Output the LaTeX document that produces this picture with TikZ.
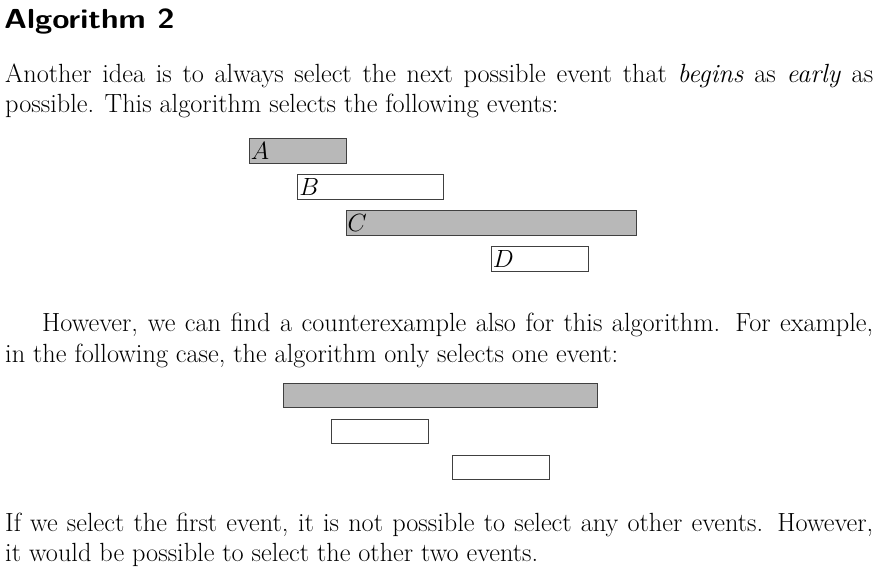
\documentclass[tikz,border=0pt]{standalone}
\begin{document}
\begin{tikzpicture}[x=1pt,y=-1pt,
  txt/.style={anchor=base west, inner sep=0pt, font=\fontsize{26.3}{30}\selectfont},
  head/.style={anchor=base west, inner sep=0pt, font=\sffamily\bfseries\fontsize{27.5}{30}\selectfont},
  evbox/.style={draw=black!75, line width=1pt, anchor=north west, minimum height=24.5pt, inner sep=0pt, outer sep=0pt},
  evg/.style={evbox, fill=black!28},
  evw/.style={evbox, fill=white},
  lab/.style={anchor=west, inner sep=1.2pt, font=\fontsize{24.5}{28}\selectfont}]
\useasboundingbox (0,0) rectangle (888,579);
\fill[white] (0,0) rectangle (888,579);
\def\U{48.4}
% heading
\node[head] (h) at (4,28) {\scalebox{1.14}[1]{Algorithm 2}};
% paragraph 1
\node[txt] (p1a) at (5,82) {\makebox[868pt][s]{Another idea is to always select the next possible event that \textit{begins} as \textit{early} as}};
\node[txt] (p1b) at (5,112.5) {possible. This algorithm selects the following events:};
% first example
\node[evg, minimum width=2*\U pt] (A) at (249.5,138.5) {};
\node[evw, minimum width=3*\U pt] (B) at (249.5+\U,174.5) {};
\node[evg, minimum width=6*\U pt] (C) at (249.5+2*\U,210.5) {};
\node[evw, minimum width=2*\U pt] (D) at (249.5+5*\U,246.5) {};
\node[lab] (lA) at (A.west) {$A$};
\node[lab] (lB) at (B.west) {$B$};
\node[lab] (lC) at (C.west) {$C$};
\node[lab] (lD) at (D.west) {$D$};
% paragraph 2
\node[txt] (p2a) at (42,331.5) {\makebox[831pt][s]{However, we can find a counterexample also for this algorithm. For example,}};
\node[txt] (p2b) at (5,362) {in the following case, the algorithm only selects one event:};
% second example
\node[evg, minimum width=6.5*\U pt] (E1) at (283,383) {};
\node[evw, minimum width=2*\U pt] (E2) at (283+\U,419) {};
\node[evw, minimum width=2*\U pt] (E3) at (283+3.5*\U,455) {};
% paragraph 3
\node[txt] (p3a) at (5,531) {\makebox[868pt][s]{If we select the first event, it is not possible to select any other events. However,}};
\node[txt] (p3b) at (5,561) {it would be possible to select the other two events.};
\end{tikzpicture}
\end{document}
